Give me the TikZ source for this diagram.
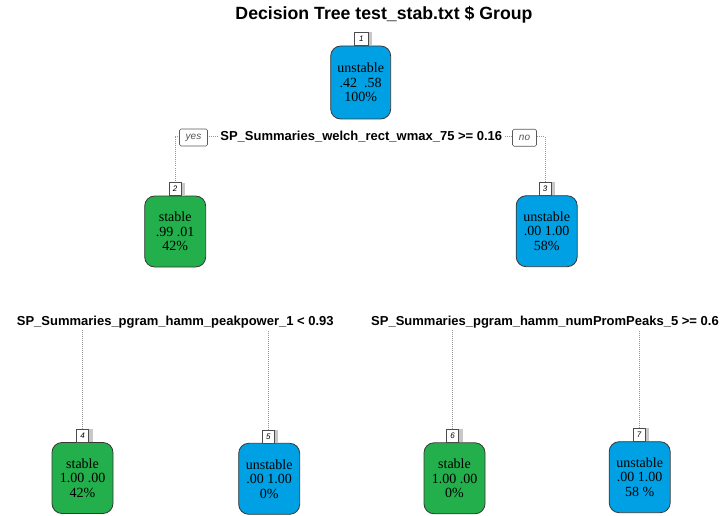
\documentclass[tikz,border=0pt]{standalone}
\usepackage{fontspec}
\setmainfont{Liberation Serif}
\setsansfont{Liberation Sans}
\usetikzlibrary{shadows,backgrounds}
\definecolor{leafgreen}{RGB}{35,175,75}
\definecolor{leafblue}{RGB}{0,161,228}
\definecolor{boxborder}{RGB}{55,55,55}
\definecolor{dotgray}{RGB}{150,150,150}
\definecolor{ynborder}{RGB}{90,90,90}
\definecolor{yntext}{RGB}{85,85,85}
\definecolor{shadowgray}{RGB}{200,200,200}
\tikzset{
  leaf/.style={draw=boxborder, line width=0.8pt, rounded corners=10pt,
    minimum width=61pt, minimum height=71pt, inner sep=0pt, align=center,
    font=\rmfamily\fontsize{14}{14.5}\selectfont, text=black},
  gleaf/.style={leaf, fill=leafgreen},
  bleaf/.style={leaf, fill=leafblue},
  tagbox/.style={draw=black!70, fill=white, line width=0.7pt,
    minimum width=12pt, minimum height=13pt, inner sep=0pt, anchor=south,
    font=\sffamily\itshape\fontsize{8}{8}\selectfont,
    drop shadow={shadow xshift=4pt, shadow yshift=0pt, fill=shadowgray, draw=none, opacity=1}},
  splitlbl/.style={fill=white, inner sep=1.5pt,
    font=\sffamily\bfseries\fontsize{13}{13}\selectfont},
  ynbox/.style={draw=ynborder, fill=white, rounded corners=1.5pt, line width=0.6pt,
    inner sep=0pt, minimum height=17pt, text=yntext,
    font=\sffamily\itshape\fontsize{10}{10}\selectfont},
  dotline/.style={draw=dotgray, line width=0.6pt, dash pattern=on 0.8pt off 1.2pt},
}
\begin{document}
\begin{tikzpicture}[x=1pt,y=-1pt]
\useasboundingbox (0,0) rectangle (723,516);
\node[font=\sffamily\bfseries\fontsize{17.7}{17.7}\selectfont] (title) at (384,15) {Decision Tree test\_stab.txt \$ Group};

% leaf boxes
\node[bleaf, minimum width=60pt, minimum height=73pt] (n1) at (360.7,82.5) {unstable\\.42\ \ .58\\100\%};
\node[gleaf] (n2) at (175.2,231.5) {stable\\.99 .01\\42\%};
\node[bleaf] (n3) at (546.7,231.2) {unstable\\.00 1.00\\58\%};
\node[gleaf] (n4) at (82.5,478) {stable\\1.00 .00\\42\%};
\node[bleaf] (n5) at (269.2,478.8) {unstable\\.00 1.00\\0\%};
\node[gleaf] (n6) at (454.5,478.3) {stable\\1.00 .00\\0\%};
\node[bleaf] (n7) at (639.7,477.2) {unstable\\.00 1.00\\58 \%};

% number tags
\node[tagbox, minimum width=14pt] (t1) at ([xshift=0.6pt]n1.north) {1};
\node[tagbox] (t2) at (175,{231.5-35.5}) {2};
\node[tagbox] (t3) at (545,{231.2-35.5}) {3};
\node[tagbox] (t4) at (82.7,{478-35.5}) {4};
\node[tagbox] (t5) at (268.3,{478.8-35.5}) {5};
\node[tagbox] (t6) at (452.7,{478.3-35.5}) {6};
\node[tagbox] (t7) at (639,{477.2-35.5}) {7};

% split labels
\node[splitlbl] (s1) at (361.3,136.7) {SP\_Summaries\_welch\_rect\_wmax\_75 >= 0.16};
\node[ynbox, minimum width=28pt] (yes) at (193.5,137.5) {yes};
\node[ynbox, minimum width=24pt] (no) at (524.5,137.8) {no};
\node[splitlbl] (s2) at (175.3,322.5) {SP\_Summaries\_pgram\_hamm\_peakpower\_1 < 0.93};
\node[splitlbl] (s3) at (545,322) {SP\_Summaries\_pgram\_hamm\_numPromPeaks\_5 >= 0.6};

% connectors
\begin{scope}[on background layer]
\draw[dotline] (t2.north) |- (s1.center) -| (t3.north);
\draw[dotline] (t4.north) |- (s2.center) -| (t5.north);
\draw[dotline] (t6.north) |- (s3.center) -| (t7.north);
\end{scope}
\end{tikzpicture}
\end{document}
